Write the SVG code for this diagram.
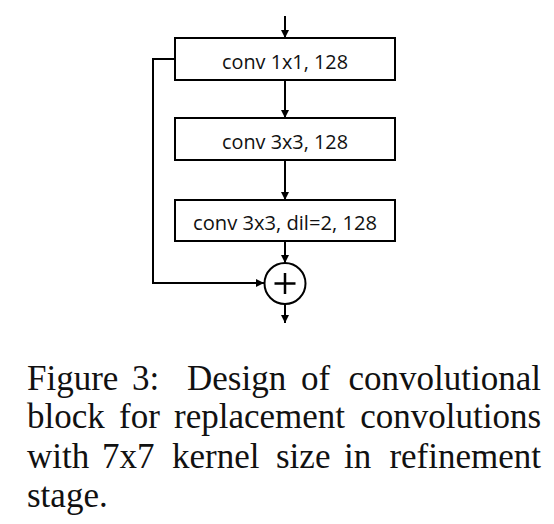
<svg xmlns="http://www.w3.org/2000/svg" width="554" height="524" viewBox="0 0 554 524">
<style>
.box{fill:#fff;stroke:#000;stroke-width:2}
.lbl{font-family:"Open Sans","Liberation Sans",sans-serif;font-size:20px;fill:#111;text-anchor:middle}
.ln{fill:none;stroke:#000;stroke-width:2}
.cap{font-family:"Liberation Serif","Times New Roman",serif;font-size:35px;fill:#111}
</style>
<defs>
<marker id="ah" markerWidth="8" markerHeight="8" refX="8" refY="4" orient="auto" markerUnits="userSpaceOnUse">
<path d="M0,0 L8,4 L0,8 Z" fill="#000"/>
</marker>
</defs>
<rect width="554" height="524" fill="#fff"/>
<g id="connectors">
<line class="ln" x1="285" y1="16" x2="285" y2="38" marker-end="url(#ah)"/>
<line class="ln" x1="285" y1="80" x2="285" y2="118" marker-end="url(#ah)"/>
<line class="ln" x1="285" y1="160" x2="285" y2="200" marker-end="url(#ah)"/>
<line class="ln" x1="285" y1="241" x2="285" y2="263" marker-end="url(#ah)"/>
<polyline class="ln" points="175,59 153,59 153,283 264,283" marker-end="url(#ah)"/>
<line class="ln" x1="285" y1="304" x2="285" y2="323" marker-end="url(#ah)"/>
</g>
<g id="conv1">
<rect class="box" x="175" y="38" width="220" height="42"/>
<text class="lbl" x="285" y="68.5" textLength="126" lengthAdjust="spacingAndGlyphs">conv 1x1, 128</text>
</g>
<g id="conv2">
<rect class="box" x="175" y="118" width="220" height="42"/>
<text class="lbl" x="285" y="148.5" textLength="126" lengthAdjust="spacingAndGlyphs">conv 3x3, 128</text>
</g>
<g id="conv3">
<rect class="box" x="175" y="200" width="220" height="41"/>
<text class="lbl" x="285" y="229.5" textLength="184" lengthAdjust="spacingAndGlyphs">conv 3x3, dil=2, 128</text>
</g>
<g id="sum">
<circle cx="285" cy="283.5" r="20.5" fill="#fff" stroke="#000" stroke-width="2"/>
<path d="M285,273 V294 M274.5,283.5 H295.5" stroke="#000" stroke-width="2.5" fill="none"/>
</g>
<g id="caption">
<text class="cap" y="390"><tspan x="27">Figure</tspan><tspan x="132">3:</tspan><tspan x="187">Design</tspan><tspan x="301">of</tspan><tspan x="541" text-anchor="end">convolutional</tspan></text>
<text class="cap" y="428"><tspan x="27">block</tspan><tspan x="119">for</tspan><tspan x="174">replacement</tspan><tspan x="541" text-anchor="end">convolutions</tspan></text>
<text class="cap" y="468"><tspan x="27">with</tspan><tspan x="102">7x7</tspan><tspan x="172">kernel</tspan><tspan x="276">size</tspan><tspan x="344">in</tspan><tspan x="541" text-anchor="end">refinement</tspan></text>
<text class="cap" y="507"><tspan x="27">stage.</tspan></text>
</g>
</svg>
